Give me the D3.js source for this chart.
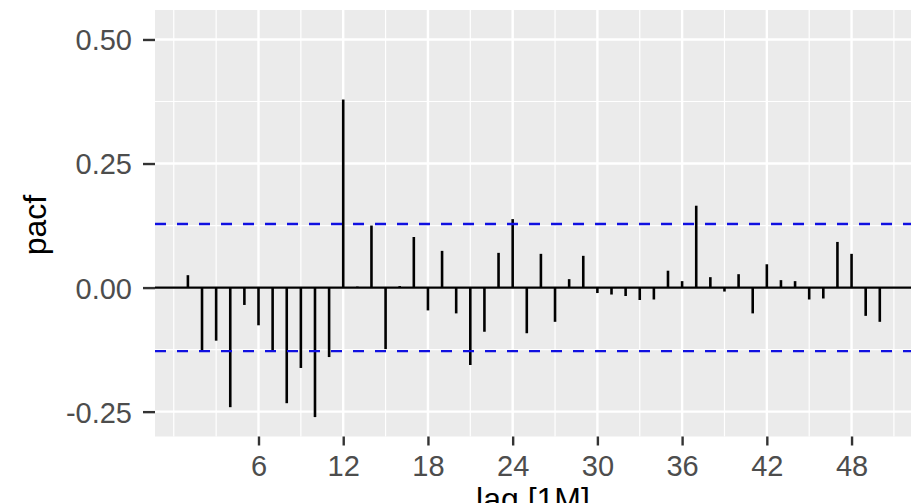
<!DOCTYPE html>
<html lang="en">
<head>
  <meta charset="UTF-8">
  <title>PACF</title>
  <style>
    body { margin: 0; background: #fff; }
    svg { display: block; font-family: "Liberation Sans", Arial, sans-serif; }
  </style>
</head>
<body>
<svg id="chart" width="911" height="503"></svg>
<script src="https://d3js.org/d3.v7.min.js"></script>
<script>
  // partial autocorrelations, lags 1..50
  const lags = d3.range(1, 51);
  const pacf = [
    0.025, -0.128, -0.107, -0.241, -0.035, -0.076, -0.128, -0.233, -0.162, -0.261,
    -0.140, 0.379, 0.002, 0.125, -0.124, 0.003, 0.102, -0.046, 0.074, -0.052,
    -0.156, -0.089, 0.070, 0.138, -0.092, 0.068, -0.069, 0.017, 0.064, -0.011,
    -0.014, -0.017, -0.025, -0.024, 0.034, 0.013, 0.165, 0.021, -0.008, 0.027,
    -0.052, 0.047, 0.015, 0.013, -0.024, -0.022, 0.092, 0.068, -0.057, -0.069
  ];
  const ciLimit = 0.128;
  const xTicks = [6, 12, 18, 24, 30, 36, 42, 48];
  const xMinor = [0, 3, 9, 15, 21, 27, 33, 39, 45, 51];
  const yTicks = [-0.25, 0, 0.25, 0.5];
  const yMinor = [-0.125, 0.125, 0.375];

  const svg = d3.select("#chart");
  const pLeft = 155, pTop = 10, pRight = 911, pBottom = 436.5;

  const x = d3.scaleLinear().domain([-1.33, 52.21]).range([pLeft, pRight]);
  const y = d3.scaleLinear().domain([-0.3001, 0.5594]).range([pBottom, pTop]);

  // panel background
  svg.append("rect")
    .attr("x", pLeft).attr("y", pTop)
    .attr("width", pRight - pLeft).attr("height", pBottom - pTop)
    .attr("fill", "#ebebeb");

  const grid = svg.append("g").attr("stroke", "#fff");
  grid.selectAll(".vmin").data(xMinor).join("line")
    .attr("x1", d => x(d)).attr("x2", d => x(d))
    .attr("y1", pTop).attr("y2", pBottom).attr("stroke-width", 1.2);
  grid.selectAll(".hmin").data(yMinor).join("line")
    .attr("y1", d => y(d)).attr("y2", d => y(d))
    .attr("x1", pLeft).attr("x2", pRight).attr("stroke-width", 1.2);
  grid.selectAll(".vmaj").data(xTicks).join("line")
    .attr("x1", d => x(d)).attr("x2", d => x(d))
    .attr("y1", pTop).attr("y2", pBottom).attr("stroke-width", 2.4);
  grid.selectAll(".hmaj").data(yTicks).join("line")
    .attr("y1", d => y(d)).attr("y2", d => y(d))
    .attr("x1", pLeft).attr("x2", pRight).attr("stroke-width", 2.4);

  // zero line
  svg.append("line")
    .attr("x1", pLeft).attr("x2", pRight)
    .attr("y1", y(0)).attr("y2", y(0))
    .attr("stroke", "#000").attr("stroke-width", 2.2);

  // pacf segments
  svg.append("g").selectAll("line").data(lags).join("line")
    .attr("x1", d => x(d)).attr("x2", d => x(d))
    .attr("y1", y(0)).attr("y2", (d, i) => y(pacf[i]))
    .attr("stroke", "#000").attr("stroke-width", 2.6);

  // significance bounds
  svg.append("g").selectAll("line").data([ciLimit, -ciLimit]).join("line")
    .attr("x1", pLeft).attr("x2", pRight)
    .attr("y1", d => y(d)).attr("y2", d => y(d))
    .attr("stroke", "#1010e0").attr("stroke-width", 2.4)
    .attr("stroke-dasharray", "11,11");

  // axes
  const fmt = d3.format(".2f");
  const xAxis = svg.append("g")
    .attr("transform", `translate(0,${pBottom})`)
    .call(d3.axisBottom(x).tickValues(xTicks).tickSize(9).tickPadding(10));
  const yAxis = svg.append("g")
    .attr("transform", `translate(${pLeft},0)`)
    .call(d3.axisLeft(y).tickValues(yTicks).tickSize(12).tickPadding(11)
      .tickFormat(d => fmt(d).replace("\u2212", "-")));
  [xAxis, yAxis].forEach(a => {
    a.select(".domain").remove();
    a.selectAll(".tick line").attr("stroke", "#333").attr("stroke-width", 2.4);
    a.selectAll(".tick text").attr("fill", "#4d4d4d").style("font-size", "29px");
  });
  yAxis.selectAll(".tick text").attr("dy", "0.36em");

  // axis titles
  svg.append("text")
    .attr("x", (pLeft + pRight) / 2).attr("y", 510)
    .attr("text-anchor", "middle")
    .style("font-size", "32px")
    .text("lag [1M]");
  svg.append("text")
    .attr("transform", `translate(46,225) rotate(-90)`)
    .attr("text-anchor", "middle")
    .style("font-size", "32px")
    .text("pacf");
</script>
</body>
</html>
